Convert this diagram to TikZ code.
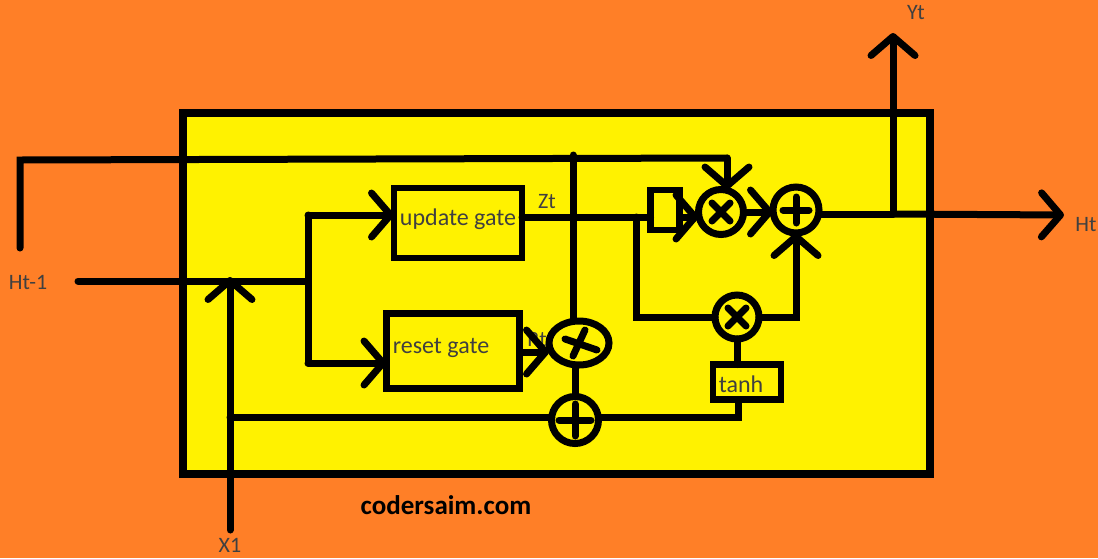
\documentclass[tikz,border=0pt]{standalone}
\usepackage{fontspec}
\setmainfont{Carlito}
\usetikzlibrary{arrows.meta,shapes.geometric}
\definecolor{bgorange}{HTML}{FF7F27}
\definecolor{cellyellow}{HTML}{FFF200}
\colorlet{labelgray}{black!75}
\tikzset{
    wire/.style={line width=7pt, line cap=round},
    arrowwire/.style={wire, -{Straight Barb[length=19pt, width=44pt, line width=7pt, round]}},
    gatebox/.style={draw, line width=6.5pt, rectangle, inner sep=0pt, outer sep=0pt},
    gatetext/.style={text=labelgray, inner sep=0pt, font=\fontsize{24}{26}\selectfont},
    opmark/.style={draw, line width=7pt, circle, inner sep=0pt, outer sep=0pt, minimum size=#1},
    portlabel/.style={text=labelgray, inner sep=0pt, font=\fontsize{22}{24}\selectfont},
}
\begin{document}
\begin{tikzpicture}[x=1pt, y=-1pt]
        \fill[bgorange] (0,0) rectangle (1098,558);
        \useasboundingbox (0,0) rectangle (1098,558);
        \draw[line width=7.5pt, fill=cellyellow] (183,113) rectangle (930,474);

        \node[gatebox, minimum width=128pt, minimum height=70pt] (update) at (458,223) {};
        \node[gatebox, minimum width=133pt, minimum height=75pt] (reset) at (453,351) {};
        \node[gatebox, minimum width=68pt, minimum height=35pt] (tanh) at (747,382) {};
        \node[gatebox, minimum width=29pt, minimum height=40pt] (delay) at (665,210) {};

        \node[gatetext] (updateText) at (458,219) {update gate};
        \node[gatetext] (resetText) at (441,348) {reset gate};
        \node[gatetext] (tanhText) at (741,384) {tanh};

        \node[opmark=45pt] (mulH) at (721,212) {};
        \node[opmark=46pt] (addO) at (796,210) {};
        \node[opmark=44pt] (mulT) at (737,317) {};
        \node[opmark=47pt] (addX) at (575,420) {};
        \node[draw, line width=7pt, ellipse, inner sep=0pt, outer sep=0pt, minimum width=60pt, minimum height=44pt] (mulR) at (579,343) {};

        % marks inside the circles
        \foreach \n in {mulH,mulT}{
            \draw[wire] (\n)+(-9,-9) -- +(9,9);
            \draw[wire] (\n)+(9,-9) -- +(-9,9);
        }
        \foreach \n/\r in {addO/13,addX/16}{
            \draw[wire] (\n)+(-\r,0) -- +(\r,0);
            \draw[wire] (\n)+(0,-\r) -- +(0,\r);
        }
        \draw[wire] (mulR)+(-14,-4) -- +(18,7);
        \draw[wire] (mulR)+(6,-13) -- +(-6,13);

        \node[portlabel] (lblHprev) at (28,282) {Ht-1};
        \node[portlabel] (lblX) at (230,545) {X1};
        \node[portlabel] (lblY) at (916,13) {Yt};
        \node[portlabel] (lblH) at (1086,225) {Ht};
        \node[portlabel] (lblZ) at (547,202) {Zt};
        \node[portlabel] (lblR) at (537,340) {Rt};
        \node[font=\fontsize{27}{29}\selectfont\bfseries, inner sep=0pt] (site) at (446,505) {codersaim.com};

        \coordinate (hStart) at (20,248);
        \coordinate (hTop) at (20,160);
        \coordinate (hCorner) at (727,158);
        \coordinate (inStart) at (78,281);
        \coordinate (inSplit) at (308,281);
        \coordinate (xStart) at (230,530);
        \coordinate (xTip) at (230,277);
        \coordinate (xTurn) at (230,417);
        \coordinate (zBranch) at (636,217);
        \coordinate (outSplit) at (893,214);
        \coordinate (outEnd) at (1064,215);
        \coordinate (yEnd) at (893,33);
        \coordinate (tanhTurn) at (738,417);
        \coordinate (rGateOut) at (520,352);
        \coordinate (topTee) at (573,155);

        \draw[wire] (hStart) -- (hTop) -- (hCorner);
        \draw[arrowwire] (hCorner) -- (mulH.north -| hCorner);
        \draw[wire] (inStart) -- (inSplit);
        \draw[wire] (308,215) -- (308,363);
        \draw[arrowwire] (308,215) -- (update.west |- 0,215);
        \draw[arrowwire] (308,363) -- (reset.west |- 0,363);
        \draw[arrowwire] (xStart) -- (xTip);
        \draw[wire] (xTurn) -- (xTurn -| addX.west);
        \draw[wire] (xTurn -| addX.east) -- (tanhTurn) -- (tanh.south -| tanhTurn);
        \draw[wire] (tanh.north -| mulT) -- (mulT.south);
        \draw[wire] (update.east |- zBranch) -- (delay.west |- zBranch);
        \draw[arrowwire] (delay.east |- zBranch) -- (mulH.west |- zBranch);
        \draw[arrowwire] (mulH.east) -- (addO.west |- mulH.east);
        \draw[wire] (zBranch) |- (mulT.west);
        \draw[arrowwire] (mulT.east) -| (addO.south);
        \draw[wire] (addO.east |- outSplit) -- (outSplit);
        \draw[arrowwire] (outSplit) -- (outEnd);
        \draw[arrowwire] (outSplit) -- (yEnd);
        \draw[wire] (topTee) -- (mulR.north -| topTee);
        \draw[wire] (mulR.south -| addX) -- (addX.north);
        \draw[arrowwire] (rGateOut) -- (mulR.west |- rGateOut);
    \end{tikzpicture}
\end{document}
